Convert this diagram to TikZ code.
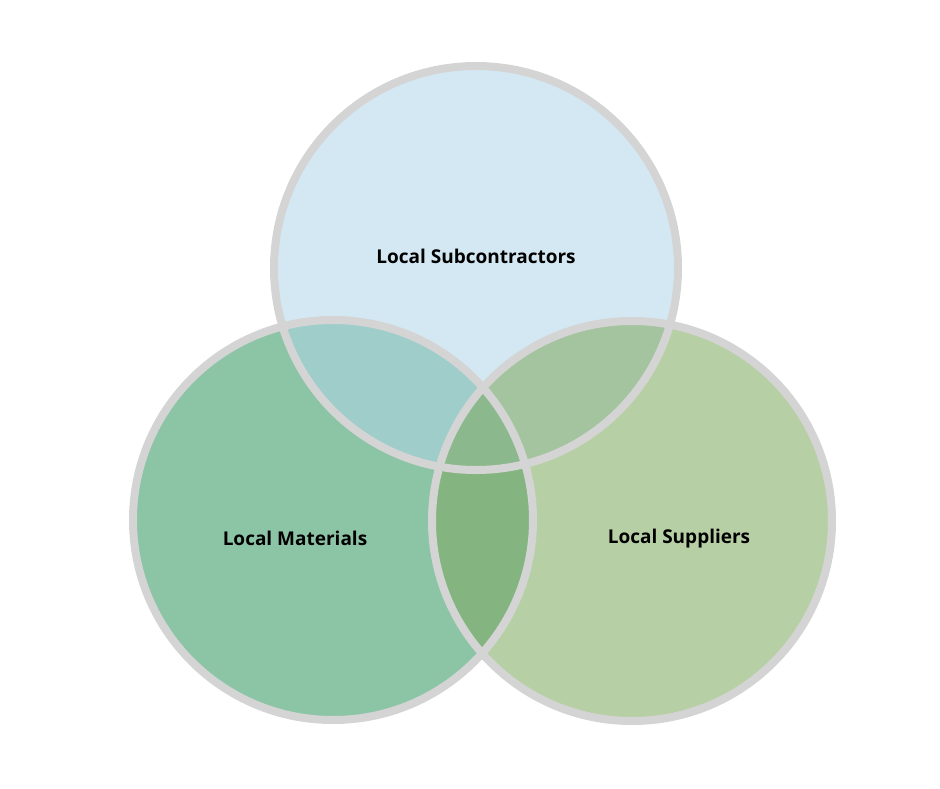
\documentclass[tikz,border=0pt]{standalone}
\usepackage{fontspec}
\setmainfont{Open Sans}
\begin{document}
\begin{tikzpicture}[x=1pt,y=-1pt,
  ring/.style={draw=black!17,line width=8pt},
  lab/.style={font=\bfseries\fontsize{19}{22}\selectfont,text=black}]
\useasboundingbox (0,0) rectangle (940,788);
\def\T{(476,268) circle (202)}
\def\L{(333,520) circle (200)}
\def\R{(632,521) circle (200)}
\fill[fill={rgb,255:red,140;green,196;blue,166}] \L;
\fill[fill={rgb,255:red,183;green,207;blue,165}] \R;
\fill[fill={rgb,255:red,211;green,232;blue,242}] \T;
\begin{scope}\clip \T; \fill[fill={rgb,255:red,159;green,205;blue,202}] \L; \end{scope}
\begin{scope}\clip \T; \fill[fill={rgb,255:red,163;green,196;blue,159}] \R; \end{scope}
\begin{scope}\clip \L; \fill[fill={rgb,255:red,132;green,180;blue,127}] \R; \end{scope}
\begin{scope}\clip \T; \clip \L; \fill[fill={rgb,255:red,139;green,184;blue,141}] \R; \end{scope}
\draw[ring] (476,268) circle (202);
\draw[ring] (333,520) circle (200);
\draw[ring] (632,521) circle (200);
\node[lab] (t) at (476,256) {Local Subcontractors};
\node[lab] (l) at (295,538) {Local Materials};
\node[lab] (r) at (679,539) {Local Suppliers};
\end{tikzpicture}
\end{document}
